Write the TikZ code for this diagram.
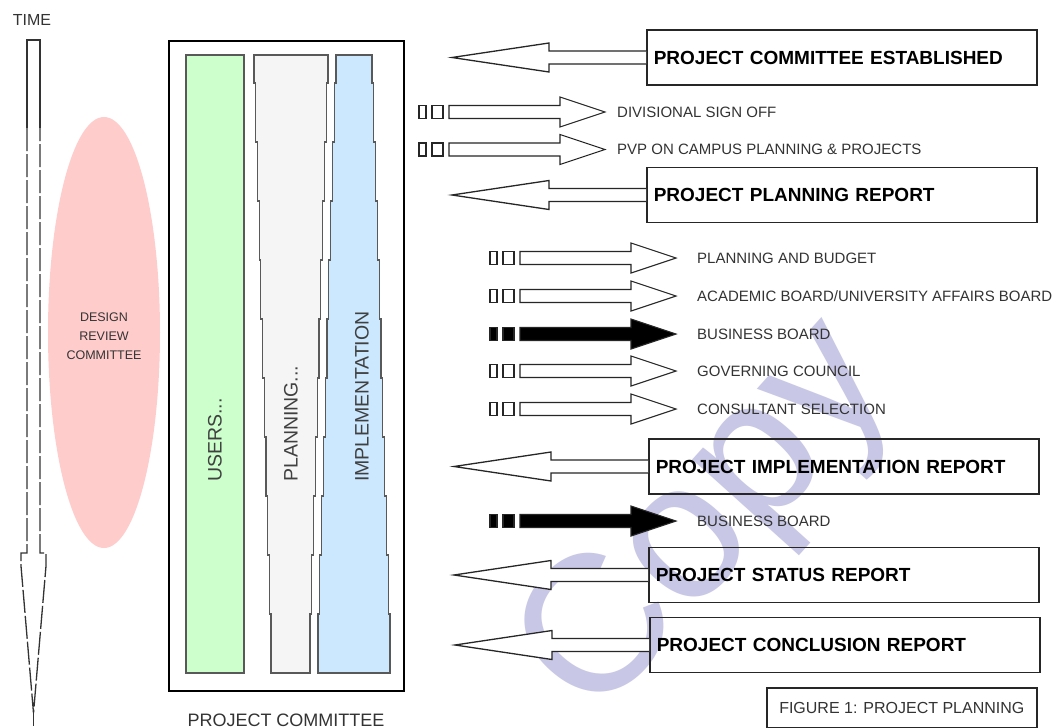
\documentclass[tikz,border=0pt]{standalone}
\usepackage{fontspec}
\setmainfont{Liberation Sans}
\usetikzlibrary{calc}
\definecolor{pinkc}{RGB}{255,204,204}
\definecolor{greenc}{RGB}{204,255,204}
\definecolor{greyc}{RGB}{245,245,245}
\definecolor{bluec}{RGB}{204,232,255}
\definecolor{wmark}{RGB}{200,200,230}
\newcommand\boxarrow[1]{%
  \filldraw[harrow] ($(#1.west)+(0,-6.5)$) -- ++(-97,0) -- ++(0,-8)
    -- ($(#1.west)+(-194,0)$) -- ($(#1.west)+(-97,14.5)$) -- ++(0,-8)
    -- ($(#1.west)+(0,6.5)$);}
\tikzset{
  harrow/.style={draw=black!85, line width=1.3pt, fill=white},
  bigbox/.style={draw=black!85, line width=1.6pt, minimum width=390pt, minimum height=55pt,
    anchor=west, inner xsep=7pt, text width=376pt, align=left,
    font=\fontsize{19}{22}\selectfont\bfseries},
  lbl/.style={anchor=west, inner sep=0pt, font=\fontsize{15}{18}\selectfont, text=black!80},
  coltext/.style={rotate=90, anchor=west, inner sep=0pt, font=\fontsize{19.5}{22}\selectfont, text=black!75},
  colline/.style={draw=black!65, line width=1.2pt},
  tline/.style={draw=black!80, line width=1.3pt},
  pics/rarr/.style={code={
    \filldraw[draw=black!85, line width=1.1pt, fill=#1] (0,-6.5) rectangle (7,6.5);
    \filldraw[draw=black!85, line width=1.1pt, fill=#1] (13,-6.5) rectangle (24,6.5);
    \filldraw[draw=black!85, line width=1.1pt, fill=#1] (141,-15) -- (186,0) -- (141,15) -- (141,6.5)
      -- (30,6.5) -- (30,-6.5) -- (141,-6.5) -- cycle;
  }}
}
\begin{document}
\begin{tikzpicture}[x=1pt,y=-1pt]
\useasboundingbox[fill=white] (0,0) rectangle (1061,728);

% watermark
\node[rotate=48, anchor=base west, inner sep=0pt, text=wmark,
  font=\fontsize{195}{195}\selectfont] (wm) at (594,724) {Copy};

% time arrow
\node[font=\fontsize{16}{18}\selectfont, text=black!80, inner sep=0pt] (time) at (32,20) {TIME};
\draw[tline] (27,128) -- (27,40) -- (40,40) -- (40,128);
\draw[tline, dash pattern=on 23pt off 3pt] (27,128) -- (27,553) -- (21,553) -- (21,566)
  -- (33.5,713) -- (46,566) -- (46,553) -- (40,553) -- (40,128);
\draw[tline] (33.5,713) -- (33.5,726);

% design review committee
\fill[pinkc] (104,332.5) ellipse [x radius=56, y radius=215.5];
\node[align=center, font=\fontsize{12.5}{19}\selectfont, text=black!80] (drc) at (104,336)
  {DESIGN\\REVIEW\\COMMITTEE};

% project committee box
\node[draw=black, line width=2.2pt, minimum width=235pt, minimum height=650pt,
  anchor=north west, inner sep=0pt] (pc) at (168,40) {};
\node[font=\fontsize{18}{20}\selectfont, text=black!80] (pclabel) at (286,720) {PROJECT COMMITTEE};

% columns
\filldraw[colline, fill=greenc] (186,55) rectangle (244,673);
\filldraw[colline, fill=greyc] (254,55)
  \foreach \k in {0,...,10}{ -- ({254+1.7*\k},{max(55,83+59*(\k-1))}) -- ({254+1.7*\k},{83+59*\k}) }
  \foreach \k in {10,...,0}{ -- ({328-1.8*\k},{83+59*\k}) -- ({328-1.8*\k},{max(55,83+59*(\k-1))}) }
  -- cycle;
\filldraw[colline, fill=bluec] (336,55)
  \foreach \k in {0,...,10}{ -- ({336-1.8*\k},{max(55,83+59*(\k-1))}) -- ({336-1.8*\k},{83+59*\k}) }
  \foreach \k in {10,...,0}{ -- ({372+1.8*\k},{83+59*\k}) -- ({372+1.8*\k},{max(55,83+59*(\k-1))}) }
  -- cycle;
\node[coltext] (users) at (215,482) {USERS...};
\node[coltext] (planning) at (291,482) {PLANNING...};
\node[coltext] (impl) at (362,482) {IMPLEMENTATION};

% big boxes
\node[bigbox] (pce) at (646,57.5) {PROJECT COMMITTEE ESTABLISHED};
\node[bigbox] (ppr) at (646,195) {PROJECT PLANNING REPORT};
\node[bigbox] (pir) at (648,466.5) {PROJECT IMPLEMENTATION REPORT};
\node[bigbox] (psr) at (648,575) {PROJECT STATUS REPORT};
\node[bigbox] (pcr) at (649,645) {PROJECT CONCLUSION REPORT};
\boxarrow{pce}
\boxarrow{ppr}
\boxarrow{pir}
\boxarrow{psr}
\boxarrow{pcr}

% small arrows
\pic at (419,112) {rarr=white};
\node[lbl] (dso) at (617,112) {DIVISIONAL SIGN OFF};
\pic at (419,149.5) {rarr=white};
\node[lbl] (pvp) at (617,149.5) {PVP ON CAMPUS PLANNING \& PROJECTS};

\pic at (490,258) {rarr=white};
\node[lbl] (pab) at (697,258) {PLANNING AND BUDGET};
\pic at (490,296) {rarr=white};
\node[lbl] (abo) at (697,296) {ACADEMIC BOARD/UNIVERSITY AFFAIRS BOARD};
\pic at (490,334) {rarr=black};
\node[lbl] (bb1) at (697,334) {BUSINESS BOARD};
\pic at (490,371) {rarr=white};
\node[lbl] (gc) at (697,371) {GOVERNING COUNCIL};
\pic at (490,409) {rarr=white};
\node[lbl] (cs) at (697,409) {CONSULTANT SELECTION};
\pic at (490,521) {rarr=black};
\node[lbl] (bb2) at (697,521) {BUSINESS BOARD};

% figure caption box
\node[draw=black!85, line width=1.6pt, minimum width=270pt, minimum height=40pt,
  anchor=north west, font=\fontsize{16}{18}\selectfont, text=black!80] (fig) at (766,687)
  {FIGURE 1: PROJECT PLANNING};
\end{tikzpicture}
\end{document}
